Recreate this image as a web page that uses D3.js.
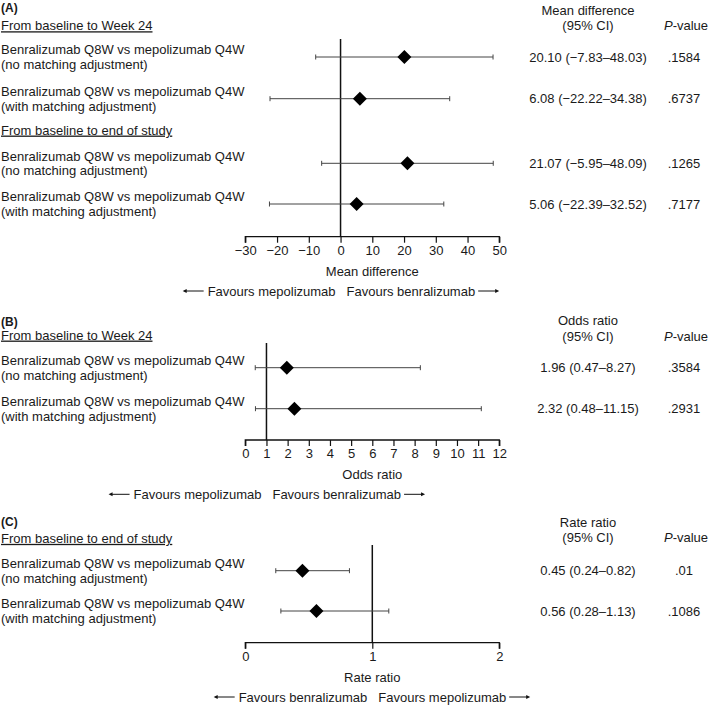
<!DOCTYPE html>
<html><head><meta charset="utf-8">
<script src="https://cdn.jsdelivr.net/npm/d3@7"></script>
<style>
body{margin:0;background:#fff}
text{font-family:"Liberation Sans",Arial,sans-serif;fill:#1a1a1a;font-size:13px}
</style>
</head><body>
<svg id="c" width="709" height="706"></svg>
<script>
// ---------- data ----------
const rowLine1 = "Benralizumab Q8W vs mepolizumab Q4W";
const adjLabels = ["(no matching adjustment)", "(with matching adjustment)"];
const sectionsA = ["From baseline to Week 24", "From baseline to end of study"];
const sectionsB = ["From baseline to Week 24"];
const sectionsC = ["From baseline to end of study"];

const estA = [20.10, 6.08, 21.07, 5.06];
const loA  = [-7.83, -22.22, -5.95, -22.39];
const hiA  = [48.03, 34.38, 48.09, 32.52];
const pA   = [".1584", ".6737", ".1265", ".7177"];
const ticksA = [-30, -20, -10, 0, 10, 20, 30, 40, 50];

const estB = [1.96, 2.32];
const loB  = [0.47, 0.48];
const hiB  = [8.27, 11.15];
const pB   = [".3584", ".2931"];
const ticksB = [0,1,2,3,4,5,6,7,8,9,10,11,12];

const estC = [0.45, 0.56];
const loC  = [0.24, 0.28];
const hiC  = [0.82, 1.13];
const pC   = [".01", ".1086"];
const ticksC = [0, 1, 2];

// ---------- layout ----------
const svg = d3.select("#c");
const X0 = 245.3, X1 = 499.3;
const fmt = d3.format(".2f");

function panel(cfg) {
  const g = svg.append("g");
  const x = d3.scaleLinear().domain(cfg.domain).range([X0, X1]);
  const rowIds = cfg.est.map((d, i) => "r" + i);
  const y = d3.scaleOrdinal().domain(rowIds).range(cfg.rowY);
  const secY = d3.scaleOrdinal().domain(cfg.sections).range(cfg.secY);

  // letter
  g.append("text").attr("x", 1).attr("y", cfg.letterY).attr("dy", "0.35em")
    .style("font-weight", "bold").style("font-size", "12px").text(cfg.letter);
  // section headings
  g.selectAll(".sec").data(cfg.sections).join("text")
    .attr("x", 1).attr("y", d => secY(d)).attr("dy", "0.35em")
    .style("text-decoration", "underline").text(d => d);
  // row labels
  cfg.est.forEach((d, i) => {
    const yy = y("r" + i);
    g.append("text").attr("x", 1).attr("y", yy - 7.3).attr("dy", "0.35em").text(rowLine1);
    g.append("text").attr("x", 1).attr("y", yy + 7.5).attr("dy", "0.35em").text(adjLabels[i % 2]);
  });
  // header on right
  g.append("text").attr("x", 588).attr("y", cfg.headY[0]).attr("dy", "0.35em")
    .attr("text-anchor", "middle").text(cfg.measure);
  g.append("text").attr("x", 588).attr("y", cfg.headY[1]).attr("dy", "0.35em")
    .attr("text-anchor", "middle").text("(95% CI)");
  const pv = g.append("text").attr("x", 686).attr("y", cfg.headY[1]).attr("dy", "0.35em")
    .attr("text-anchor", "middle");
  pv.append("tspan").style("font-style", "italic").text("P");
  pv.append("tspan").text("-value");

  // axis
  const axis = d3.axisBottom(x).tickValues(cfg.ticks).tickSize(6).tickPadding(3)
    .tickFormat(d3.format("d"));
  const ag = g.append("g").attr("transform", `translate(0,${cfg.axisY})`).call(axis);
  ag.select(".domain").attr("d", `M${X0},6V0H${X1}V6`).attr("stroke", "#111").attr("stroke-width", 1.3);
  ag.selectAll(".tick line").attr("stroke", "#111").attr("stroke-width", 1.2);
  ag.selectAll(".tick text").style("font-size", "13px").style("font-family", '"Liberation Sans",Arial,sans-serif').attr("fill", "#1a1a1a");
  g.append("text").attr("x", (X0 + X1) / 2).attr("y", cfg.axisY + 34.5).attr("dy", "0.35em")
    .attr("text-anchor", "middle").text(cfg.measure);

  // reference line
  g.append("line").attr("x1", x(cfg.ref)).attr("x2", x(cfg.ref))
    .attr("y1", cfg.refTop).attr("y2", cfg.axisY).attr("stroke", "#111").attr("stroke-width", 1.5);

  // CIs
  const rows = cfg.est.map((d, i) => ({ id: "r" + i, est: d, lo: cfg.lo[i], hi: cfg.hi[i], p: cfg.p[i] }));
  const rg = g.selectAll(".row").data(rows).join("g");
  rg.append("line").attr("x1", d => x(d.lo)).attr("x2", d => x(d.hi))
    .attr("y1", d => y(d.id)).attr("y2", d => y(d.id)).attr("stroke", "#444").attr("stroke-width", 1);
  rg.append("line").attr("x1", d => x(d.lo)).attr("x2", d => x(d.lo))
    .attr("y1", d => y(d.id) - 2.5).attr("y2", d => y(d.id) + 2.5).attr("stroke", "#444");
  rg.append("line").attr("x1", d => x(d.hi)).attr("x2", d => x(d.hi))
    .attr("y1", d => y(d.id) - 2.5).attr("y2", d => y(d.id) + 2.5).attr("stroke", "#444");
  rg.append("path").attr("d", d => {
      const cx = x(d.est), cy = y(d.id);
      return `M${cx - 7},${cy}L${cx},${cy - 7}L${cx + 7},${cy}L${cx},${cy + 7}Z`;
    }).attr("fill", "#000");
  rg.append("text").attr("x", 588).attr("y", d => y(d.id)).attr("dy", "0.35em").attr("text-anchor", "middle")
    .text(d => `${fmt(d.est)} (${fmt(d.lo)}\u2013${fmt(d.hi)})`);
  rg.append("text").attr("x", 684).attr("y", d => y(d.id)).attr("dy", "0.35em").attr("text-anchor", "middle")
    .text(d => d.p);

  // favours
  const fy = cfg.axisY + 54.3;
  const rx = x(cfg.ref);
  const lt = g.append("text").attr("x", rx - 5).attr("y", fy).attr("dy", "0.35em").attr("text-anchor", "end").text(cfg.favL);
  const rt = g.append("text").attr("x", rx + 6).attr("y", fy).attr("dy", "0.35em").text(cfg.favR);
  const lw = lt.node().getComputedTextLength(), rw = rt.node().getComputedTextLength();
  const la = rx - 5 - lw - 4, ra = rx + 6 + rw + 3;
  g.append("line").attr("x1", la).attr("x2", la - 19).attr("y1", fy).attr("y2", fy).attr("stroke", "#111");
  g.append("path").attr("d", `M${la - 21},${fy}l4,-2v4z`).attr("fill", "#111");
  g.append("line").attr("x1", ra).attr("x2", ra + 19).attr("y1", fy).attr("y2", fy).attr("stroke", "#111");
  g.append("path").attr("d", `M${ra + 21},${fy}l-4,-2v4z`).attr("fill", "#111");
}

panel({
  letter: "(A)", letterY: 8, sections: sectionsA, secY: [25.7, 130],
  est: estA, lo: loA, hi: hiA, p: pA, rowY: [57, 98.7, 163.3, 204],
  domain: [-30, 50], ticks: ticksA, ref: 0, axisY: 236.7, refTop: 39,
  measure: "Mean difference", headY: [10, 25],
  favL: "Favours mepolizumab", favR: "Favours benralizumab"
});
panel({
  letter: "(B)", letterY: 321.7, sections: sectionsB, secY: [335],
  est: estB, lo: loB, hi: hiB, p: pB, rowY: [367.7, 408.7],
  domain: [0, 12], ticks: ticksB, ref: 1, axisY: 440, refTop: 343,
  measure: "Odds ratio", headY: [320, 336.7],
  favL: "Favours mepolizumab", favR: "Favours benralizumab"
});
panel({
  letter: "(C)", letterY: 521.7, sections: sectionsC, secY: [538.3],
  est: estC, lo: loC, hi: hiC, p: pC, rowY: [570.7, 611],
  domain: [0, 2], ticks: ticksC, ref: 1, axisY: 642.7, refTop: 545,
  measure: "Rate ratio", headY: [522.7, 537.3],
  favL: "Favours benralizumab", favR: "Favours mepolizumab"
});
</script>
</body></html>
